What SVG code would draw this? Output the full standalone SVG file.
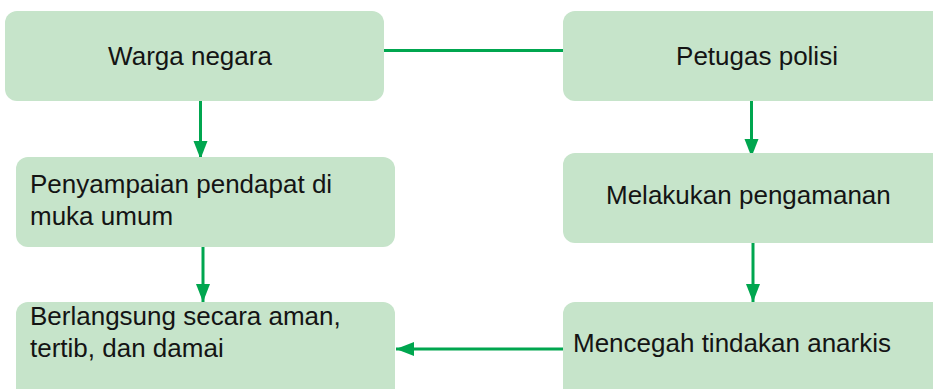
<svg xmlns="http://www.w3.org/2000/svg" width="933" height="389" viewBox="0 0 933 389">
<style>
.box{fill:#c6e4ca;}
.t{font-family:"Liberation Sans",Arial,sans-serif;font-size:26px;fill:#141414;}
.c{fill:none;stroke:#00a64f;stroke-width:3;}
</style>
<defs>
<marker id="ah" markerUnits="userSpaceOnUse" markerWidth="20" markerHeight="16" refX="18" refY="7" orient="auto">
<polygon points="0,0 18,7 0,14" fill="#00a64f"/>
</marker>
</defs>
<rect width="933" height="389" fill="#ffffff"/>
<g id="connectors">
<line class="c" x1="384" y1="50.5" x2="564" y2="50.5"/>
<line class="c" x1="200.5" y1="101" x2="200.5" y2="159" marker-end="url(#ah)"/>
<line class="c" x1="751.5" y1="101" x2="751.5" y2="157" marker-end="url(#ah)"/>
<line class="c" x1="203" y1="247" x2="203" y2="302" marker-end="url(#ah)"/>
<line class="c" x1="753" y1="243" x2="753" y2="302" marker-end="url(#ah)"/>
<line class="c" x1="564" y1="349" x2="396" y2="349" marker-end="url(#ah)"/>
</g>
<g id="warga">
<rect class="box" x="5" y="11" width="379" height="90" rx="12"/>
<text class="t" x="190" y="65" text-anchor="middle">Warga negara</text>
</g>
<g id="petugas">
<rect class="box" x="563" y="11" width="390" height="90" rx="12"/>
<text class="t" x="757" y="65" text-anchor="middle">Petugas polisi</text>
</g>
<g id="penyampaian">
<rect class="box" x="16" y="157" width="379" height="90" rx="12"/>
<text class="t" x="30" y="193">Penyampaian pendapat di</text>
<text class="t" x="30" y="225">muka umum</text>
</g>
<g id="melakukan">
<rect class="box" x="563" y="153" width="390" height="90" rx="12"/>
<text class="t" x="606" y="204">Melakukan pengamanan</text>
</g>
<g id="berlangsung">
<rect class="box" x="16" y="302" width="379" height="100" rx="12"/>
<text class="t" x="30" y="325">Berlangsung secara aman,</text>
<text class="t" x="30" y="357">tertib, dan damai</text>
</g>
<g id="mencegah">
<rect class="box" x="563" y="302" width="390" height="100" rx="12"/>
<text class="t" x="573" y="352">Mencegah tindakan anarkis</text>
</g>
</svg>
